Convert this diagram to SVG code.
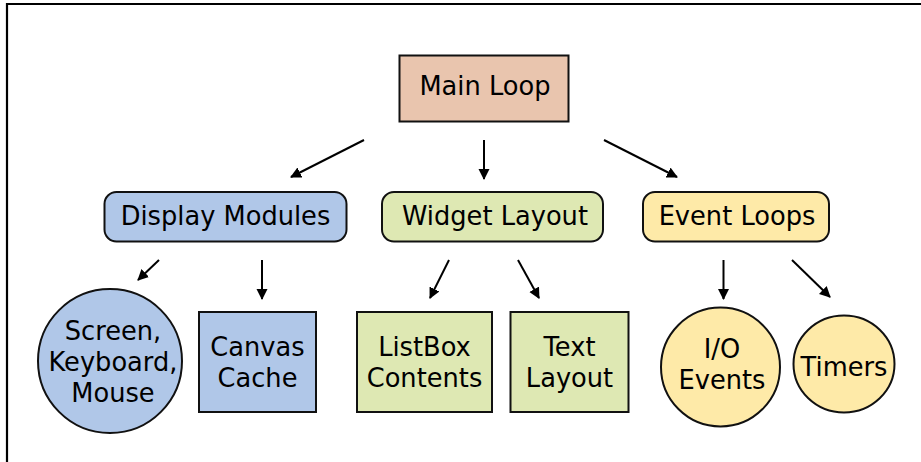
<svg xmlns="http://www.w3.org/2000/svg" width="921" height="462" viewBox="0 0 921 462">
<style>
text{font-family:"DejaVu Sans","Liberation Sans",sans-serif;font-size:25.7px;fill:#000;text-anchor:middle}
.n{stroke:#111;stroke-width:2}
.beige{fill:#e9c5ae}
.blue{fill:#b0c7e8}
.green{fill:#dee8b3}
.yellow{fill:#feeaa8}
.e{stroke:#000;stroke-width:2;fill:none;marker-end:url(#ah)}
</style>
<defs>
<marker id="ah" markerUnits="userSpaceOnUse" markerWidth="12" markerHeight="12" refX="10" refY="5.5" orient="auto">
<path d="M0,0 L11,5.5 L0,11 z" fill="#000"/>
</marker>
</defs>
<rect width="921" height="462" fill="#fff"/>
<path d="M7,462 V4 H921" fill="none" stroke="#000" stroke-width="2.2"/>
<g id="connectors">
<line class="e" x1="364" y1="140" x2="291" y2="177"/>
<line class="e" x1="484" y1="140" x2="484" y2="179"/>
<line class="e" x1="604" y1="140" x2="677" y2="177"/>
<line class="e" x1="159" y1="260" x2="138" y2="280"/>
<line class="e" x1="262" y1="260" x2="262" y2="299"/>
<line class="e" x1="449" y1="260" x2="430" y2="298"/>
<line class="e" x1="518" y1="260" x2="539" y2="298"/>
<line class="e" x1="723.5" y1="260" x2="723.5" y2="299"/>
<line class="e" x1="792" y1="260" x2="830" y2="297"/>
</g>
<g id="main-loop">
<rect class="n beige" x="399.5" y="55.5" width="169" height="66"/>
<text x="485" y="95">Main Loop</text>
</g>
<g id="display-modules">
<rect class="n blue" x="104.5" y="192" width="242" height="49.5" rx="12"/>
<text x="225.5" y="225">Display Modules</text>
</g>
<g id="widget-layout">
<rect class="n green" x="382" y="192" width="221" height="49.5" rx="12"/>
<text x="495" y="225">Widget Layout</text>
</g>
<g id="event-loops">
<rect class="n yellow" x="643" y="192" width="186" height="49.5" rx="12"/>
<text x="737" y="225">Event Loops</text>
</g>
<g id="screen">
<circle class="n blue" cx="110" cy="361" r="72"/>
<text x="113" y="340">Screen,</text>
<text x="113" y="371">Keyboard,</text>
<text x="113" y="402">Mouse</text>
</g>
<g id="canvas-cache">
<rect class="n blue" x="199" y="312" width="117" height="100"/>
<text x="257.5" y="356">Canvas</text>
<text x="257.5" y="387">Cache</text>
</g>
<g id="listbox">
<rect class="n green" x="357" y="312" width="135" height="100"/>
<text x="424.5" y="356">ListBox</text>
<text x="424.5" y="387">Contents</text>
</g>
<g id="text-layout">
<rect class="n green" x="510.5" y="312" width="118" height="100"/>
<text x="569.5" y="356">Text</text>
<text x="569.5" y="387">Layout</text>
</g>
<g id="io-events">
<circle class="n yellow" cx="720.5" cy="367" r="59.5"/>
<text x="722" y="358">I/O</text>
<text x="722" y="389">Events</text>
</g>
<g id="timers">
<ellipse class="n yellow" cx="844" cy="364" rx="50.5" ry="48.5"/>
<text x="844" y="376">Timers</text>
</g>
</svg>
